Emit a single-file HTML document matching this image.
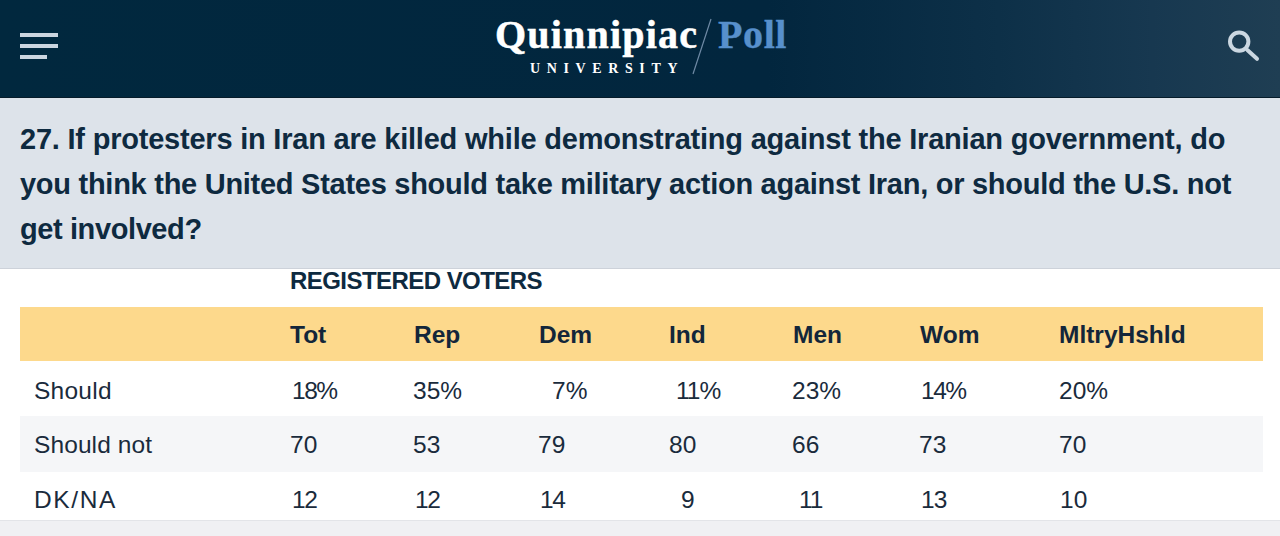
<!DOCTYPE html>
<html><head><meta charset="utf-8">
<style>
html,body{margin:0;padding:0;}
body{width:1280px;height:536px;overflow:hidden;position:relative;background:#fff;font-family:"Liberation Sans",sans-serif;color:#112b40;}
.hdr{position:absolute;left:0;top:0;width:1280px;height:98px;
 background:linear-gradient(90deg,#01283e 0%,#02263e 60%,#0d3048 78%,#173850 90%,#1f3e53 100%);border-bottom:1px solid #061c2a;box-sizing:border-box;}
.bar{position:absolute;left:20px;height:4px;background:#cbd5df;}
.q{position:absolute;left:0;top:98px;width:1280px;height:170px;background:#dde3ea;border-bottom:1px solid #cdd2da;}
.qt{position:absolute;left:20px;top:0;font-weight:bold;font-size:29px;line-height:45px;color:#0e2a40;white-space:nowrap;}
.t{position:absolute;white-space:nowrap;line-height:1;}
.rv{font-size:24px;font-weight:bold;color:#0e2a40;letter-spacing:-0.55px;}
.hrow{position:absolute;left:20px;top:307px;width:1243px;height:54px;background:#fdd98c;}
.srow{position:absolute;left:20px;top:416px;width:1243px;height:55.5px;background:#f5f6f8;}
.foot{position:absolute;left:0;top:520px;width:1280px;height:16px;background:#f0f0f3;border-top:1px solid #e3e4e8;}
.h{font-size:24.5px;font-weight:bold;color:#13263a;}
.d{font-size:24.5px;color:#1a2b3c;}
</style></head><body>
<div class="hdr">
 <div class="bar" style="top:33px;width:38px"></div>
 <div class="bar" style="top:44px;width:38px"></div>
 <div class="bar" style="top:55px;width:27px"></div>
 <div class="t" style="left:495px;top:15px;font-family:'Liberation Serif',serif;font-weight:bold;font-size:40px;letter-spacing:1.2px;color:#fff;-webkit-text-stroke:0.5px #fff;">Quinnipiac</div>
 <div class="t" style="left:718px;top:15px;font-family:'Liberation Serif',serif;font-weight:bold;font-size:40px;letter-spacing:0.6px;color:#5790cc;-webkit-text-stroke:0.4px #5790cc;">Poll</div>
 <div class="t" style="left:530px;top:62px;font-family:'Liberation Serif',serif;font-weight:bold;font-size:14px;letter-spacing:6.62px;color:#fff;">UNIVERSITY</div>
 <svg style="position:absolute;left:0;top:0" width="1280" height="98">
  <line x1="711" y1="19" x2="693" y2="74" stroke="#6f8aa5" stroke-width="1.2"/>
  <circle cx="1239.2" cy="41.6" r="9.2" fill="none" stroke="#cbd7e1" stroke-width="4"/>
  <line x1="1247.6" y1="50.2" x2="1257" y2="58.8" stroke="#cbd7e1" stroke-width="4" stroke-linecap="round"/>
 </svg>
</div>
<div class="q">
 <div class="qt" style="top:19px;letter-spacing:-0.215px">27. If protesters in Iran are killed while demonstrating against the Iranian government, do</div>
 <div class="qt" style="top:64px;letter-spacing:-0.27px">you think the United States should take military action against Iran, or should the U.S. not</div>
 <div class="qt" style="top:109px;letter-spacing:-0.4px">get involved?</div>
</div>
<div class="t rv" style="left:290px;top:268.5px">REGISTERED VOTERS</div>
<div class="hrow"></div>
<div class="srow"></div>
<div class="foot"></div>

<div class="t h" style="left:290px;top:323px">Tot</div>
<div class="t h" style="left:414px;top:323px">Rep</div>
<div class="t h" style="left:539px;top:323px">Dem</div>
<div class="t h" style="left:669px;top:323px">Ind</div>
<div class="t h" style="left:793px;top:323px">Men</div>
<div class="t h" style="left:920px;top:323px">Wom</div>
<div class="t h" style="left:1059px;top:323px">MltryHshld</div>

<div class="t d" style="left:34px;top:378.5px;letter-spacing:0.25px">Should</div>
<div class="t d" style="left:292px;top:378.5px;letter-spacing:-1.5px">18%</div>
<div class="t d" style="left:413px;top:378.5px">35%</div>
<div class="t d" style="left:552px;top:378.5px">7%</div>
<div class="t d" style="left:676px;top:378.5px;letter-spacing:-1px">11%</div>
<div class="t d" style="left:792px;top:378.5px">23%</div>
<div class="t d" style="left:921px;top:378.5px;letter-spacing:-1.5px">14%</div>
<div class="t d" style="left:1059px;top:378.5px">20%</div>

<div class="t d" style="left:34px;top:433px;letter-spacing:0.1px">Should not</div>
<div class="t d" style="left:290px;top:433px">70</div>
<div class="t d" style="left:413px;top:433px">53</div>
<div class="t d" style="left:538px;top:433px">79</div>
<div class="t d" style="left:669px;top:433px">80</div>
<div class="t d" style="left:792px;top:433px">66</div>
<div class="t d" style="left:919px;top:433px">73</div>
<div class="t d" style="left:1059px;top:433px">70</div>

<div class="t d" style="left:34px;top:488px;letter-spacing:1.6px">DK/NA</div>
<div class="t d" style="left:292px;top:488px;letter-spacing:-1.5px">12</div>
<div class="t d" style="left:415px;top:488px;letter-spacing:-1.5px">12</div>
<div class="t d" style="left:540px;top:488px;letter-spacing:-1.5px">14</div>
<div class="t d" style="left:681px;top:488px">9</div>
<div class="t d" style="left:799px;top:488px;letter-spacing:-1px">11</div>
<div class="t d" style="left:921px;top:488px;letter-spacing:-1px">13</div>
<div class="t d" style="left:1060px;top:488px">10</div>
</body></html>
